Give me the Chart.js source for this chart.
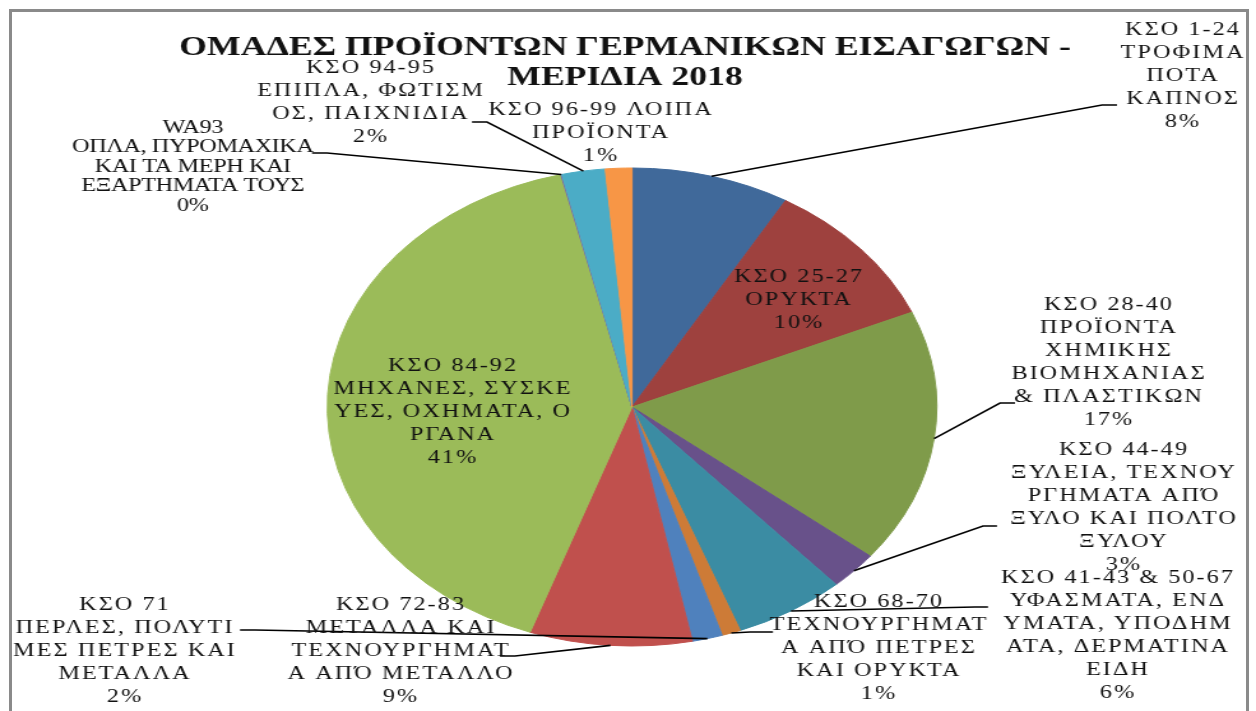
<!DOCTYPE html>
<html><head><meta charset="utf-8">
<script src="https://cdn.jsdelivr.net/npm/chart.js@4.4.1/dist/chart.umd.min.js"></script>
<style>
html,body{margin:0;padding:0;background:#fff;overflow:hidden;width:1256px;height:711px;}
#frame{position:absolute;left:9px;top:9px;width:1240px;height:720px;border:3px solid #8a8a8a;box-sizing:border-box;}
#wrap{position:absolute;left:0;top:0;width:985px;height:711px;transform:scaleX(1.27513);transform-origin:0 0;}
canvas{display:block;}
</style></head><body>
<div id="frame"></div>
<div id="wrap"><canvas id="c" width="985" height="711" style="width:985px;height:711px"></canvas></div>
<script>
const SX = 1256 / 985;

const chartTitle = ['ΟΜΑΔΕΣ ΠΡΟΪΟΝΤΩΝ ΓΕΡΜΑΝΙΚΩΝ ΕΙΣΑΓΩΓΩΝ -', 'ΜΕΡΙΔΙΑ 2018'];

const categories = [
  ['ΚΣΟ 1-24', 'ΤΡΟΦΙΜΑ', 'ΠΟΤΑ', 'ΚΑΠΝΟΣ'],
  ['ΚΣΟ 25-27', 'ΟΡΥΚΤΑ'],
  ['ΚΣΟ 28-40', 'ΠΡΟΪΟΝΤΑ', 'ΧΗΜΙΚΗΣ', 'ΒΙΟΜΗΧΑΝΙΑΣ', '& ΠΛΑΣΤΙΚΩΝ'],
  ['ΚΣΟ 44-49', 'ΞΥΛΕΙΑ, ΤΕΧΝΟΥ', 'ΡΓΗΜΑΤΑ ΑΠΌ', 'ΞΥΛΟ ΚΑΙ ΠΟΛΤΟ', 'ΞΥΛΟΥ'],
  ['ΚΣΟ 41-43 & 50-67', 'ΥΦΑΣΜΑΤΑ, ΕΝΔ', 'ΥΜΑΤΑ, ΥΠΟΔΗΜ', 'ΑΤΑ, ΔΕΡΜΑΤΙΝΑ', 'ΕΙΔΗ'],
  ['ΚΣΟ 68-70', 'ΤΕΧΝΟΥΡΓΗΜΑΤ', 'Α ΑΠΌ ΠΕΤΡΕΣ', 'ΚΑΙ ΟΡΥΚΤΑ'],
  ['ΚΣΟ 71', 'ΠΕΡΛΕΣ, ΠΟΛΥΤΙ', 'ΜΕΣ ΠΕΤΡΕΣ ΚΑΙ', 'ΜΕΤΑΛΛΑ'],
  ['ΚΣΟ 72-83', 'ΜΕΤΑΛΛΑ ΚΑΙ', 'ΤΕΧΝΟΥΡΓΗΜΑΤ', 'Α ΑΠΌ ΜΕΤΑΛΛΟ'],
  ['ΚΣΟ 84-92', 'ΜΗΧΑΝΕΣ, ΣΥΣΚΕ', 'ΥΕΣ, ΟΧΗΜΑΤΑ, Ο', 'ΡΓΑΝΑ'],
  ['WA93', 'ΟΠΛΑ, ΠΥΡΟΜΑΧΙΚΑ', 'ΚΑΙ ΤΑ ΜΕΡΗ ΚΑΙ', 'ΕΞΑΡΤΗΜΑΤΑ ΤΟΥΣ'],
  ['ΚΣΟ 94-95', 'ΕΠΙΠΛΑ, ΦΩΤΙΣΜ', 'ΟΣ, ΠΑΙΧΝΙΔΙΑ'],
  ['ΚΣΟ 96-99 ΛΟΙΠΑ', 'ΠΡΟΪΟΝΤΑ']
];

const shares = [8.4, 10.1, 17.2, 2.6, 5.9, 1.0, 1.6, 8.6, 40.8, 0.05, 2.3, 1.4];

const colors = ['#40699A', '#9E413E', '#7F9B4A', '#68518A', '#3B8CA3', '#CD7B37',
                '#4F81BD', '#C0504D', '#9BBB59', '#8064A2', '#4BACC6', '#F79646'];

// label placement (reference pixel coords): x = centre of text block, y = centre of first line,
// leader = [anchor at label, elbow] or null; ls = letter spacing, lh = line height
const labelPlace = [
  {x: 1182, y: 30,  leader: [[1117, 105], [1102, 105]]},
  {x: 798,  y: 277, leader: null},
  {x: 1108, y: 305, leader: [[1015, 403], [1000, 403]]},
  {x: 1123, y: 450, leader: [[997, 526], [983, 526]]},
  {x: 1117, y: 578, leader: [[988, 607], [975, 607]]},
  {x: 878,  y: 602, leader: [[773, 632], [750, 632]]},
  {x: 124,  y: 605, leader: [[240, 630], [255, 630]]},
  {x: 400,  y: 605, leader: [[500, 656], [515, 656]]},
  {x: 452,  y: 366, leader: null},
  {x: 193,  y: 128, leader: [[312, 153], [327, 153]], ls: -0.3, lh: 19.5},
  {x: 370,  y: 68,  leader: [[472, 122], [487, 122]]},
  {x: 600,  y: 110, leader: null}
];

const CX = 632 / SX, CY = 407, R = 239;
const W = 985, H = 711;

const labelPlugin = {
  id: 'labels',
  afterDraw(chart) {
    const ctx = chart.ctx;
    const meta = chart.getDatasetMeta(0);
    const total = shares.reduce((a, b) => a + b, 0);
    ctx.save();
    // title
    ctx.fillStyle = '#111';
    ctx.textAlign = 'center';
    ctx.textBaseline = 'middle';
    ctx.font = 'bold 28px "Liberation Serif"';
    ctx.fillText(chartTitle[0], 625 / SX, 48);
    ctx.fillText(chartTitle[1], 625 / SX, 78);
    // leaders
    ctx.strokeStyle = '#000';
    ctx.lineWidth = 1.6;
    meta.data.forEach((arc, i) => {
      const p = labelPlace[i];
      if (!p.leader) return;
      const mid = (arc.startAngle + arc.endAngle) / 2;
      const rx = arc.x + arc.outerRadius * Math.cos(mid);
      const ry = arc.y + arc.outerRadius * Math.sin(mid);
      ctx.beginPath();
      ctx.moveTo(rx, ry);
      ctx.lineTo(p.leader[1][0] / SX, p.leader[1][1]);
      ctx.lineTo(p.leader[0][0] / SX, p.leader[0][1]);
      ctx.stroke();
    });
    // label text
    ctx.font = '19px "Liberation Serif"';
    ctx.fillStyle = '#111';
    meta.data.forEach((arc, i) => {
      const p = labelPlace[i];
      const ls = p.ls !== undefined ? p.ls : 1.6;
      const lh = p.lh || 23;
      ctx.letterSpacing = ls + 'px';
      const lines = categories[i].concat([Math.round(shares[i] / total * 100) + '%']);
      lines.forEach((t, k) => ctx.fillText(t, p.x / SX + ls / 2, p.y + k * lh));
    });
    ctx.restore();
  }
};

new Chart(document.getElementById('c'), {
  type: 'pie',
  data: {
    labels: categories.map(c => c.join(' ')),
    datasets: [{
      data: shares,
      backgroundColor: colors,
      borderColor: colors,
      borderWidth: 1,
      hoverOffset: 0,
      offset: 0,
      hoverBorderWidth: 1
    }]
  },
  options: {
    responsive: false,
    animation: false,
    events: [],
    layout: {padding: {left: CX - R - 0.5, right: W - CX - R - 0.5, top: CY - R - 0.5, bottom: H - CY - R - 0.5}},
    plugins: {legend: {display: false}, tooltip: {enabled: false}, title: {display: false}}
  },
  plugins: [labelPlugin]
});
</script>
</body></html>
